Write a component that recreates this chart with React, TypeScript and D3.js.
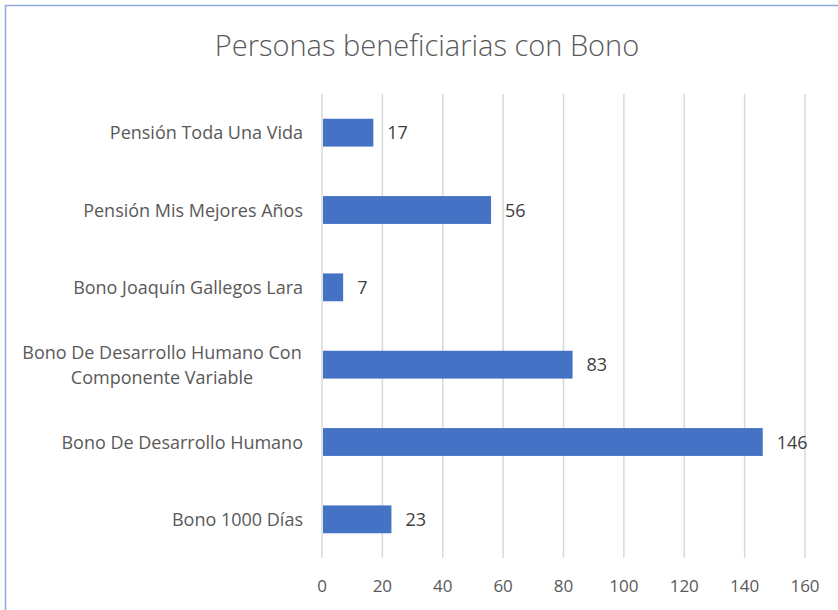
import React, { useEffect, useRef } from 'react';
import * as d3 from 'd3';

const categories = [
  'Pensión Toda Una Vida',
  'Pensión Mis Mejores Años',
  'Bono Joaquín Gallegos Lara',
  'Bono De Desarrollo Humano Con Componente Variable',
  'Bono De Desarrollo Humano',
  'Bono 1000 Días',
];
const values = [17, 56, 7, 83, 146, 23];
const xTicks = [0, 20, 40, 60, 80, 100, 120, 140, 160];
const title = 'Personas beneficiarias con Bono';

// long labels wrap in two lines, like the spreadsheet does
const labelLines: Record<string, string[]> = {
  'Bono De Desarrollo Humano Con Componente Variable': ['Bono De Desarrollo Humano Con', 'Componente Variable'],
};

function App() {
  const ref = useRef<SVGSVGElement>(null);

  useEffect(() => {
    const width = 838;
    const height = 610;
    const marginLeft = 322;
    const marginRight = 33;
    const marginTop = 94;
    const plotBottom = 558;
    const font = '"Open Sans", Lato, sans-serif';
    const fontSize = 18;

    const svg = d3.select(ref.current);
    svg.selectAll('*').remove();

    svg.append('rect')
      .attr('width', width)
      .attr('height', height)
      .attr('fill', '#fff');

    // chart frame
    svg.append('rect')
      .attr('x', 5.5)
      .attr('y', 5.5)
      .attr('width', width + 20)
      .attr('height', height + 20)
      .attr('fill', 'none')
      .attr('stroke', '#8faadc')
      .attr('stroke-width', 1.5);

    svg.append('text')
      .attr('x', 427)
      .attr('y', 56)
      .attr('text-anchor', 'middle')
      .attr('font-family', font)
      .attr('font-size', 29)
      .attr('font-weight', 300)
      .attr('fill', '#595959')
      .text(title);

    const x = d3.scaleLinear([0, 160], [marginLeft, width - marginRight]);
    const y = d3.scaleBand(categories, [marginTop, plotBottom]).paddingInner(0.64).paddingOuter(0.32);

    // gridlines
    svg.append('g')
      .selectAll('line')
      .data(xTicks)
      .join('line')
      .attr('x1', (d) => x(d))
      .attr('x2', (d) => x(d))
      .attr('y1', marginTop)
      .attr('y2', plotBottom)
      .attr('stroke', '#d9d9d9')
      .attr('stroke-width', 1.5);

    svg.append('g')
      .selectAll('text')
      .data(xTicks)
      .join('text')
      .attr('x', (d) => x(d))
      .attr('y', 592)
      .attr('text-anchor', 'middle')
      .attr('font-family', font)
      .attr('font-size', 17)
      .attr('fill', '#595959')
      .text((d) => d);

    // bars
    svg.append('g')
      .selectAll('rect')
      .data(categories)
      .join('rect')
      .attr('x', x(0) + 1)
      .attr('y', (d) => y(d)!)
      .attr('width', (d, i) => x(values[i]) - x(0) - 1)
      .attr('height', y.bandwidth())
      .attr('fill', '#4472c4');

    // value labels
    svg.append('g')
      .selectAll('text')
      .data(categories)
      .join('text')
      .attr('x', (d, i) => x(values[i]) + 14)
      .attr('y', (d) => y(d)! + y.bandwidth() / 2 + 6.5)
      .attr('font-family', font)
      .attr('font-size', fontSize)
      .attr('fill', '#404040')
      .text((d, i) => values[i]);

    // category labels
    const cat = svg.append('g')
      .selectAll('text')
      .data(categories)
      .join('text')
      .attr('font-family', font)
      .attr('font-size', fontSize)
      .attr('fill', '#595959');

    cat.each(function (d) {
      const t = d3.select(this);
      const cy = y(d)! + y.bandwidth() / 2;
      const lines = labelLines[d];
      if (lines) {
        t.attr('text-anchor', 'middle');
        lines.forEach((ln, k) => {
          t.append('tspan')
            .attr('x', 162)
            .attr('y', cy + 6.5 + (k - (lines.length - 1) / 2) * 25)
            .text(ln);
        });
      } else {
        t.attr('text-anchor', 'end')
          .attr('x', 303)
          .attr('y', cy + 6.5)
          .text(d);
      }
    });
  });

  return (
    <svg
      ref={ref}
      width={838}
      height={610}
      style={{ position: 'absolute', left: 0, top: 0, display: 'block' }}
    />
  );
}

export default App;
